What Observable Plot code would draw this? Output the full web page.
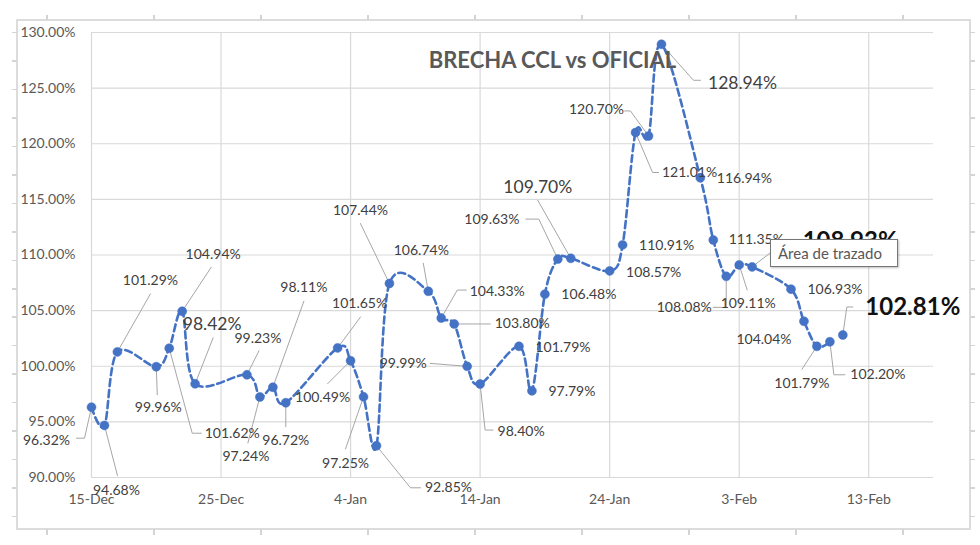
<!DOCTYPE html>
<html>
<head>
<meta charset="utf-8">
<script src="https://cdn.jsdelivr.net/npm/d3@7"></script>
<script src="https://cdn.jsdelivr.net/npm/@observablehq/plot@0.6"></script>
<style>
  html, body { margin: 0; padding: 0; background: #fff; }
  #wrap { position: relative; width: 980px; height: 545px; overflow: hidden; font-family: Lato, "Open Sans", sans-serif; }
  #wrap svg { display: block; }
  .frame { position: absolute; left: 16px; top: 19px; width: 955px; height: 511px; box-sizing: border-box; border: 2px solid #dcdcdc; pointer-events: none; }
  .tk { position: absolute; pointer-events: none; }
  .tk.l { left: 12px; top: 32px; width: 5px; height: 490px; background: repeating-linear-gradient(to bottom, #d4d4d4 0 1.5px, transparent 1.5px 28.45px); }
  .tk.r { left: 970px; top: 32px; width: 5px; height: 490px; background: repeating-linear-gradient(to bottom, #d4d4d4 0 1.5px, transparent 1.5px 28.45px); }
  .tk.t { left: 46px; top: 15px; width: 860px; height: 5px; background: repeating-linear-gradient(to right, #d4d4d4 0 1.5px, transparent 1.5px 107px); }
  .tk.b { left: 46px; top: 529px; width: 860px; height: 6px; background: repeating-linear-gradient(to right, #d4d4d4 0 1.5px, transparent 1.5px 107px); }
  .tip { position: absolute; left: 770px; top: 239px; width: 128px; height: 28px; box-sizing: border-box; border: 1px solid #767676; background: #fff; box-shadow: 1px 1px 2px rgba(0,0,0,0.25); font: 15px Lato, sans-serif; color: #575757; line-height: 26px; padding-left: 7px; white-space: nowrap; }
</style>
</head>
<body>
<div id="wrap"></div>
<script>
// ---- data ----
const dates = [
  "2021-12-15","2021-12-16","2021-12-17","2021-12-20","2021-12-21","2021-12-22","2021-12-23",
  "2021-12-27","2021-12-28","2021-12-29","2021-12-30",
  "2022-01-03","2022-01-04","2022-01-05","2022-01-06","2022-01-07",
  "2022-01-10","2022-01-11","2022-01-12","2022-01-13","2022-01-14",
  "2022-01-17","2022-01-18","2022-01-19","2022-01-20","2022-01-21",
  "2022-01-24","2022-01-25","2022-01-26","2022-01-27","2022-01-28",
  "2022-01-31","2022-02-01","2022-02-02","2022-02-03","2022-02-04",
  "2022-02-07","2022-02-08","2022-02-09","2022-02-10","2022-02-11"
];
const values = [
  96.32, 94.68, 101.29, 99.96, 101.62, 104.94, 98.42,
  99.23, 97.24, 98.11, 96.72,
  101.65, 100.49, 97.25, 92.85, 107.44,
  106.74, 104.33, 103.80, 99.99, 98.40,
  101.79, 97.79, 106.48, 109.63, 109.70,
  108.57, 110.91, 121.01, 120.70, 128.94,
  116.94, 111.35, 108.08, 109.11, 108.93,
  106.93, 104.04, 101.79, 102.20, 102.81
];
const joinedCount = 40; // points joined by the dashed line (last point stands alone)
const xTickDates = ["2021-12-15","2021-12-25","2022-01-04","2022-01-14","2022-01-24","2022-02-03","2022-02-13"];
const yTicks = [90, 95, 100, 105, 110, 115, 120, 125, 130];
const xDomain = ["2021-12-15", "2022-02-18"];
const yDomain = [90, 130];
const title = "BRECHA CCL vs OFICIAL";
const tooltipText = "Área de trazado";

// ---- label layout (pixel offsets from each point; style; leader polyline offsets) ----
const labelLayout = [
  [-45, 33, "n", [[0,0],[-7,31],[-15,31]]],
  [12, 65, "n", [[0,0],[13,50]]],
  [33, -71, "n", [[0,0],[33,-58]]],
  [2, 41, "n", [[0,0],[1,28]]],
  [63, 85, "n", [[0,0],[23,85],[32,85]]],
  [31, -57, "n", [[0,0],[29,-44]]],
  [17, -59, "L", [[0,0],[18,-46]]],
  [11, -36, "n", [[0,0],[12,-24]]],
  [-14, 60, "n", [[0,0],[-12,46]]],
  [31, -100, "n", [[0,0],[31,-86]]],
  [0, 38, "n", [[0,0],[0,24]]],
  [22, -44, "n", [[0,0],[23,-31]]],
  [-28, 37, "n", [[0,0],[-23,23]]],
  [-18, 67, "n", [[0,0],[-18,52]]],
  [72, 42, "n", [[0,0],[34,42],[44,42]]],
  [-29, -73, "n", [[0,0],[-29,-60]]],
  [-7, -41, "n", [[0,0],[-5,-28]]],
  [56, -27, "n", [[0,0],[16,-28],[25,-28]]],
  [68, 0, "n", [[0,0],[36,0]]],
  [-64, -3, "n", [[0,0],[-37,-3]]],
  [41, 47, "n", [[0,0],[5,46],[13,46]]],
  [44, 1, "n", null],
  [40, 1, "n", null],
  [44, 0, "n", null],
  [-66, -40, "n", [[0,0],[-19,-40],[-32,-40]]],
  [-33, -71, "L", [[0,0],[-33,-58]]],
  [44, 2, "n", null],
  [44, 1, "n", null],
  [54, 40, "n", [[0,0],[17,40],[23,40]]],
  [-52, -26, "n", [[0,0],[-18,-25],[-24,-25]]],
  [81, 39, "L", [[0,0],[32,36],[39,36]]],
  [44, 1, "n", null],
  [43, 0, "n", null],
  [-42, 31, "n", [[0,0],[0,31],[-13,31]]],
  [9, 39, "n", [[0,0],[8,25]]],
  [98, -26, "B", [[0,0],[18,-14]]],
  [44, 0, "n", null],
  [-40, 18, "n", null],
  [-15, 37, "n", [[0,0],[-15,23]]],
  [48, 33, "n", [[0,0],[4,33],[15,33]]],
  [70, -28, "B", [[0,0],[4,-28],[10,-28]]]
];

// ---- build ----
const W = 980, H = 545;
const margin = {left: 91, right: 47, top: 32, bottom: 68};
const parse = d3.utcParse("%Y-%m-%d");
const data = dates.map((d, i) => ({date: parse(d), value: values[i], i}));

// scales identical to Plot's, used only to place label offsets in data space
const xs = d3.scaleUtc().domain(xDomain.map(parse)).range([margin.left, W - margin.right]);
const ys = d3.scaleLinear().domain(yDomain).range([H - margin.bottom, margin.top]);

const labels = data.map((d, i) => {
  const [dx, dy, style] = labelLayout[i];
  return {
    date: xs.invert(xs(d.date) + dx),
    value: ys.invert(ys(d.value) + dy),
    text: d.value.toFixed(2) + "%",
    style
  };
});
const leaders = [];
data.forEach((d, i) => {
  const lead = labelLayout[i][3];
  if (!lead) return;
  lead.forEach(([ox, oy]) => leaders.push({id: i, date: xs.invert(xs(d.date) + ox), value: ys.invert(ys(d.value) + oy)}));
});

const blue = "#4472C4";
const plot = Plot.plot({
  width: W, height: H,
  marginLeft: margin.left, marginRight: margin.right, marginTop: margin.top, marginBottom: margin.bottom,
  style: {fontFamily: "Lato, 'Open Sans', sans-serif", fontSize: "14px", color: "#595959", background: "transparent"},
  x: {type: "utc", domain: xDomain.map(parse), ticks: xTickDates.map(parse), tickFormat: d3.utcFormat("%-d-%b"), tickSize: 0, tickPadding: 17, label: null},
  y: {domain: yDomain, ticks: yTicks, tickFormat: d => d.toFixed(2) + "%", tickSize: 0, tickPadding: 16, label: null},
  marks: [
    Plot.ruleY(yTicks, {stroke: "#d9d9d9", strokeWidth: 1.2}),
    Plot.ruleX(xTickDates.map(parse), {stroke: "#d9d9d9", strokeWidth: 1.2}),
    Plot.line(leaders, {x: "date", y: "value", z: "id", stroke: "#a6a6a6", strokeWidth: 1}),
    Plot.line(data.slice(0, joinedCount), {x: "date", y: "value", curve: "cardinal", stroke: blue, strokeWidth: 2.6, strokeDasharray: "7,4"}),
    Plot.dot(data, {x: "date", y: "value", r: 4.5, fill: blue, stroke: blue, strokeWidth: 0.5}),
    Plot.text(labels.filter(d => d.style === "n"), {x: "date", y: "value", text: "text", fontSize: 14, fill: "#404040"}),
    Plot.text(labels.filter(d => d.style === "L"), {x: "date", y: "value", text: "text", fontSize: 17.5, fill: "#404040"}),
    Plot.text(labels.filter(d => d.style === "B"), {x: "date", y: "value", text: "text", fontSize: 24, fontWeight: "bold", fill: "#111"}),
    Plot.text([title], {frameAnchor: "top", dx: 40, dy: 20, fontSize: 22, fontWeight: "bold", fill: "#595959"})
  ]
});

const wrap = document.getElementById("wrap");
wrap.appendChild(plot);
["frame", "tk l", "tk r", "tk t", "tk b"].forEach(c => {
  const el = document.createElement("div");
  el.className = c;
  wrap.appendChild(el);
});
const tip = document.createElement("div");
tip.className = "tip";
tip.textContent = tooltipText;
wrap.appendChild(tip);
</script>
</body>
</html>
